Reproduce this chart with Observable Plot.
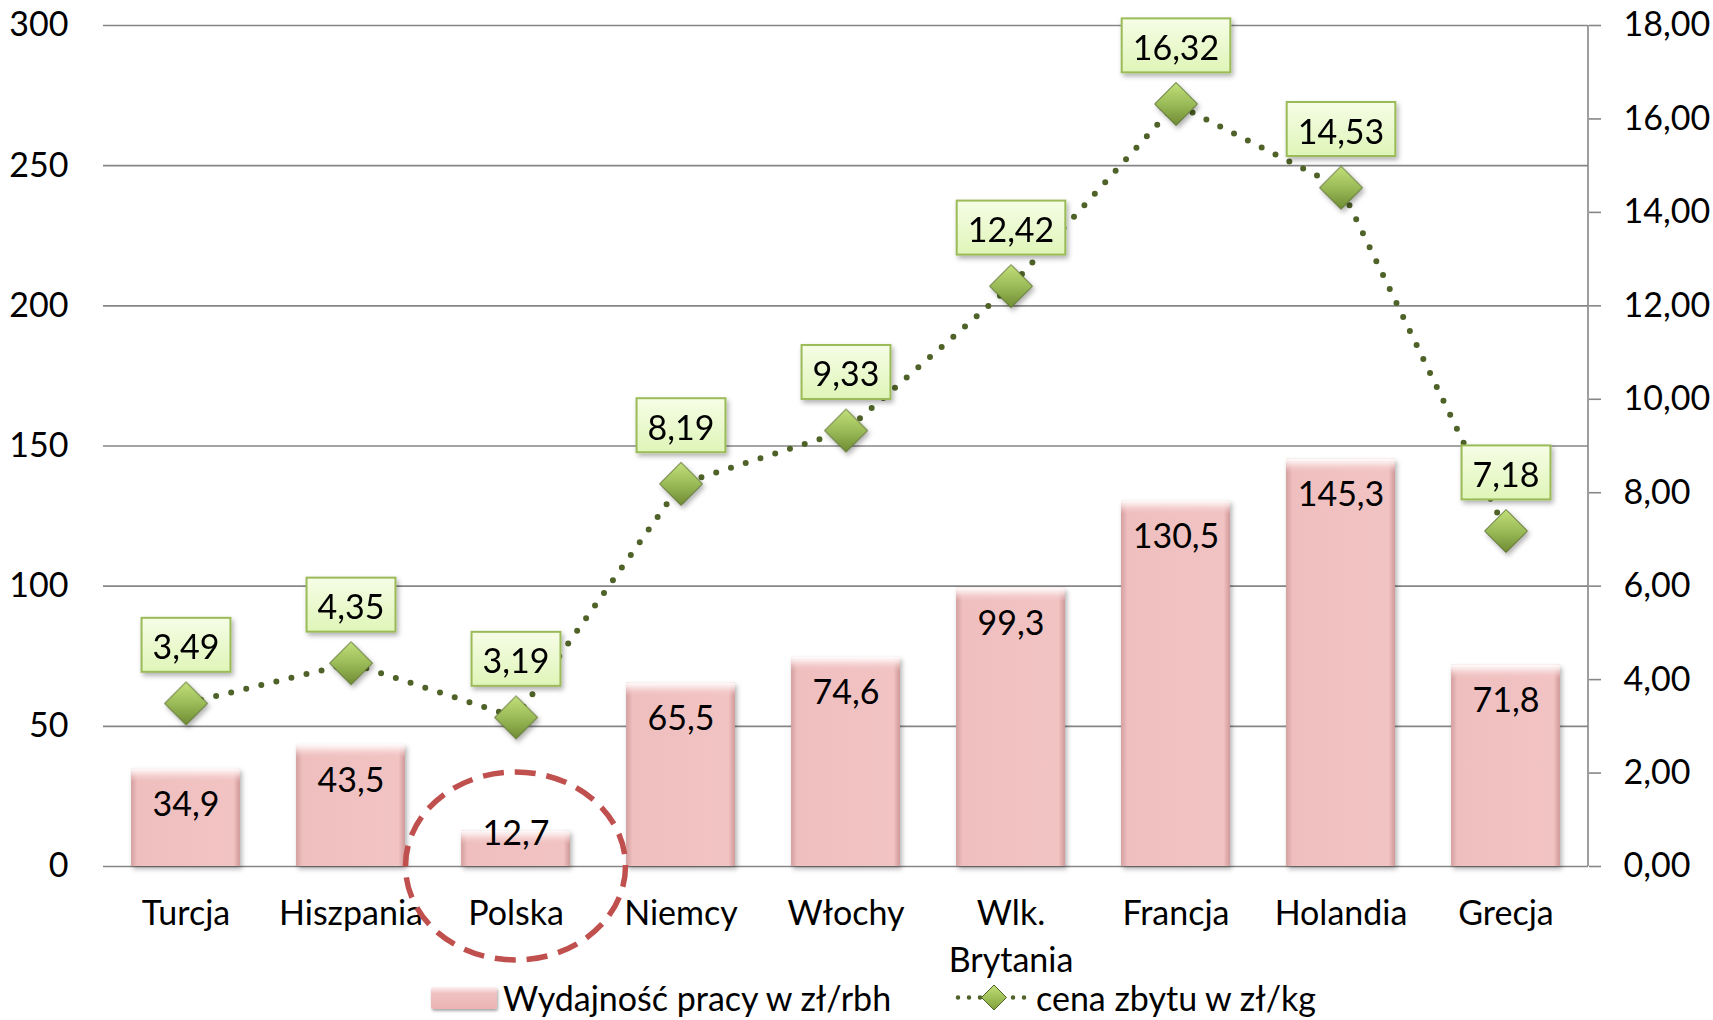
<!DOCTYPE html>
<html><head><meta charset="utf-8">
<script src="https://cdn.jsdelivr.net/npm/d3@7"></script>
<script src="https://cdn.jsdelivr.net/npm/@observablehq/plot@0.6"></script>
<style>
body{margin:0;background:#fff;font-family:Lato,"Open Sans",sans-serif;}
#chart{width:1713px;height:975px;}
#legend{position:relative;width:1713px;height:45px;font-size:34px;color:#000;}
#legend .it{position:absolute;top:0;height:45px;display:flex;align-items:center;white-space:nowrap;}
#legend .sw{width:66px;height:22px;background:linear-gradient(to bottom,#fdf0f0 0%,#f1c1c1 30%,#eab3b3 100%);box-shadow:1px 2px 3px rgba(0,0,0,0.35);border-radius:2px;}
</style></head><body>
<div id="chart"></div>
<div id="legend"></div>
<script>
// ---- data ----
const countries = ["Turcja","Hiszpania","Polska","Niemcy","Włochy","Wlk.\nBrytania","Francja","Holandia","Grecja"];
const productivity = [34.9, 43.5, 12.7, 65.5, 74.6, 99.3, 130.5, 145.3, 71.8];
const prices = [3.49, 4.35, 3.19, 8.19, 9.33, 12.42, 16.32, 14.53, 7.18];
const leftTicks = [0, 50, 100, 150, 200, 250, 300];
const rightTicks = [0, 2, 4, 6, 8, 10, 12, 14, 16, 18];
const seriesNames = ["Wydajność pracy w zł/rbh", "cena zbytu w zł/kg"];
const highlighted = "Polska";

const leftMax = 300, rightMax = 18;
const k = leftMax / rightMax;
const comma = (v, n) => v.toFixed(n).replace(".", ",");
const FS = 34;

const barData = countries.map((c, i) => ({c, v: productivity[i]}));
const priceData = countries.map((c, i) => ({c, p: prices[i]}));

const diamond = {draw(ctx, size) {
  const h = Math.sqrt(size / Math.PI);
  ctx.moveTo(0, -h); ctx.lineTo(h, 0); ctx.lineTo(0, h); ctx.lineTo(-h, 0); ctx.closePath();
}};

const W = 1713, H = 975, mL = 103, mR = 125, mT = 25, mB = 109;

const plot = Plot.plot({
  width: W, height: H,
  marginLeft: mL, marginRight: mR, marginTop: mT, marginBottom: mB,
  style: {fontFamily: "Lato, 'Open Sans', sans-serif", fontSize: FS + "px", color: "#000", background: "#fff", overflow: "visible"},
  x: {type: "band", domain: countries, paddingInner: 0.34, paddingOuter: 0.17, round: false, label: null},
  y: {domain: [0, leftMax], label: null},
  marks: [
    Plot.gridY(leftTicks, {stroke: "#868686", strokeOpacity: 1, strokeWidth: 1.6}),
    Plot.axisY(leftTicks, {anchor: "left", tickSize: 0, tickPadding: 35, fontSize: FS, tickFormat: d => String(d), label: null}),
    Plot.axisY(rightTicks.map(t => t * k), {anchor: "right", tickSize: 12, tickPadding: 23, fontSize: FS, stroke: "#868686", strokeWidth: 1.6, tickFormat: d => comma(d / k, 2), label: null}),
    Plot.axisX({tickSize: 0, tickPadding: 25, fontSize: FS, lineHeight: 1.38, label: null}),
    Plot.barY(barData, {x: "c", y: "v", fill: "url(#barGrad)"}),
    Plot.barY(barData, {x: "c", y1: d => d.v, y2: d => Math.max(d.v - 5, 0), fill: "url(#topGrad)"}),
    Plot.text(barData, {x: "c", y: d => Math.max(d.v - 12.9, 11.4), text: d => comma(d.v, 1), fontSize: FS, fill: "#000"}),
    Plot.line(priceData, {x: "c", y: d => d.p * k, stroke: "#4f6228", strokeWidth: 6, strokeDasharray: "0 15.5", strokeLinecap: "round"}),
    Plot.dot(priceData, {x: "c", y: d => d.p * k, symbol: diamond, r: 21.5, fill: "url(#dGrad)", stroke: "#4f6228", strokeWidth: 1}),
    Plot.text(priceData, {x: "c", y: d => d.p * k, dy: -55, text: d => comma(d.p, 2), fontSize: FS, fill: "#000"})
  ]
});

document.getElementById("chart").appendChild(plot);
const svg = d3.select(plot);
svg.insert("defs", ":first-child").html(`
  <linearGradient id="barGrad" x1="0" y1="0" x2="1" y2="0">
    <stop offset="0" stop-color="#d49f9f"/><stop offset="0.06" stop-color="#efbfbf"/>
    <stop offset="0.94" stop-color="#f2c3c3"/><stop offset="1" stop-color="#cf9898"/>
  </linearGradient>
  <linearGradient id="topGrad" x1="0" y1="0" x2="0" y2="1">
    <stop offset="0" stop-color="#ffffff" stop-opacity="1"/><stop offset="0.35" stop-color="#fbeaea" stop-opacity="0.8"/><stop offset="1" stop-color="#f2c3c3" stop-opacity="0"/>
  </linearGradient>
  <linearGradient id="dGrad" x1="0" y1="0" x2="0" y2="1">
    <stop offset="0" stop-color="#c2e07a"/><stop offset="0.5" stop-color="#9bbb59"/><stop offset="1" stop-color="#6f8c32"/>
  </linearGradient>
  <linearGradient id="boxGrad" x1="0" y1="0" x2="0" y2="1">
    <stop offset="0" stop-color="#f6fde6"/><stop offset="1" stop-color="#dff5b8"/>
  </linearGradient>
  <filter id="sh" x="-30%" y="-30%" width="170%" height="170%">
    <feDropShadow dx="2" dy="3" stdDeviation="2.5" flood-color="#000" flood-opacity="0.3"/>
  </filter>`);

// shadows
const bars = svg.selectAll('g[aria-label="bar"]').nodes();
if (bars[0]) bars[0].setAttribute("filter", "url(#sh)");
svg.selectAll('g[aria-label="dot"]').attr("filter", "url(#sh)");

// label boxes for price labels
const textGroups = svg.selectAll('g[aria-label="text"]').nodes();
const pg = textGroups[textGroups.length - 1];
if (pg) {
  d3.select(pg).selectAll("text").each(function() {
    const b = this.getBBox();
    const w = b.width + 22, h = 54;
    const cx = b.x + b.width / 2, cy = b.y + b.height / 2 - 1;
    const r = document.createElementNS("http://www.w3.org/2000/svg", "rect");
    r.setAttribute("x", cx - w / 2); r.setAttribute("y", cy - h / 2);
    r.setAttribute("width", w); r.setAttribute("height", h);
    r.setAttribute("fill", "url(#boxGrad)"); r.setAttribute("stroke", "#9bbb59");
    r.setAttribute("stroke-width", 2); r.setAttribute("filter", "url(#sh)");
    const t = this.getAttribute("transform"); if (t) r.setAttribute("transform", t);
    this.parentNode.insertBefore(r, this);
  });
}

// right axis line
const ys = plot.scale("y"), xs = plot.scale("x");
svg.append("line").attr("x1", W - mR).attr("x2", W - mR)
  .attr("y1", ys.apply(leftMax)).attr("y2", ys.apply(0))
  .attr("stroke", "#868686").attr("stroke-width", 1.6);

// highlight ellipse around Polska
svg.append("ellipse")
  .attr("cx", xs.apply(highlighted) + xs.bandwidth / 2)
  .attr("cy", ys.apply(0))
  .attr("rx", 110).attr("ry", 94)
  .attr("fill", "none").attr("stroke", "#c0504d").attr("stroke-width", 5.5)
  .attr("stroke-dasharray", "21 11");

// legend
const lg = document.getElementById("legend");
lg.innerHTML = `
  <div class="it" style="left:431px"><div class="sw"></div><span style="margin-left:6px">${seriesNames[0]}</span></div>
  <div class="it" style="left:954px"><svg width="78" height="45" style="overflow:visible">
    <line x1="4" x2="74" y1="22.5" y2="22.5" stroke="#4f6228" stroke-width="4.5" stroke-dasharray="0 11" stroke-linecap="round"/>
    <path d="M40,10 L52.5,22.5 L40,35 L27.5,22.5 Z" fill="url(#dGradL)" stroke="#4f6228" stroke-width="1"/>
    <defs><linearGradient id="dGradL" x1="0" y1="0" x2="0" y2="1"><stop offset="0" stop-color="#c2e07a"/><stop offset="1" stop-color="#7fa03a"/></linearGradient></defs>
  </svg><span style="margin-left:4px">${seriesNames[1]}</span></div>`;
</script>
</body></html>
